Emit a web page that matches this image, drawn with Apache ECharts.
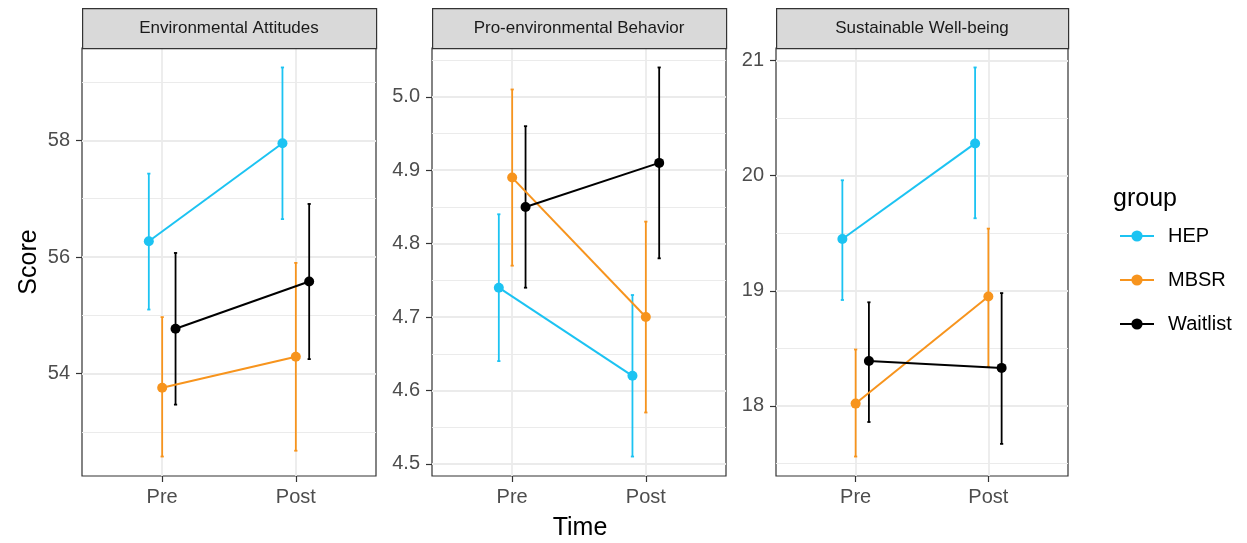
<!DOCTYPE html>
<html>
<head>
<meta charset="utf-8">
<script src="https://cdn.jsdelivr.net/npm/echarts@6/dist/echarts.min.js"></script>
<style>
html,body{margin:0;padding:0;background:#fff;}
#chart{width:1247px;height:543px;}
</style>
</head>
<body>
<div id="chart"></div>
<script>
// ---------------- data ----------------
const categories = ['Pre', 'Post'];
const groups = ['HEP', 'MBSR', 'Waitlist'];
const panelTitles = ['Environmental Attitudes', 'Pro-environmental Behavior', 'Sustainable Well-being'];

// rows: HEP, MBSR, Waitlist ; columns: Pre, Post
const eaMean  = [[56.27, 57.95], [53.76, 54.29], [54.77, 55.58]];
const eaLower = [[55.10, 56.65], [52.58, 52.68], [53.47, 54.25]];
const eaUpper = [[57.43, 59.25], [54.97, 55.90], [56.07, 56.91]];

const pebMean  = [[4.74, 4.62], [4.89, 4.70], [4.85, 4.91]];
const pebLower = [[4.64, 4.51], [4.77, 4.57], [4.74, 4.78]];
const pebUpper = [[4.84, 4.73], [5.01, 4.83], [4.96, 5.04]];

const swbMean  = [[19.45, 20.28], [18.02, 18.95], [18.39, 18.33]];
const swbLower = [[18.92, 19.63], [17.56, 18.34], [17.86, 17.67]];
const swbUpper = [[19.96, 20.94], [18.49, 19.54], [18.90, 18.98]];

const eaTicks  = [54, 56, 58];
const eaMinor  = [53, 55, 57, 59];
const pebTicks = [4.5, 4.6, 4.7, 4.8, 4.9, 5.0];
const pebMinor = [4.55, 4.65, 4.75, 4.85, 4.95, 5.05];
const swbTicks = [18, 19, 20, 21];
const swbMinor = [17.5, 18.5, 19.5, 20.5];
const tickDecimals = [0, 1, 0];

const dodge = [-0.1, 0, 0.1];

// ---------------- style / layout ----------------
const groupColors = ['#1cc3f2', '#f7941d', '#000000'];
const FONT = 'Liberation Sans';
const panelLeft = [82, 432, 776];
const panelWidth = [294, 294, 292];
const plotTop = 48, plotBottom = 476;
const stripTop = 8;

const panels = [
  {mean: eaMean, lower: eaLower, upper: eaUpper, ticks: eaTicks, minor: eaMinor},
  {mean: pebMean, lower: pebLower, upper: pebUpper, ticks: pebTicks, minor: pebMinor},
  {mean: swbMean, lower: swbLower, upper: swbUpper, ticks: swbTicks, minor: swbMinor}
];

function extentOf(p) {
  const lo = Math.min(...p.lower.flat(), ...p.mean.flat());
  const hi = Math.max(...p.upper.flat(), ...p.mean.flat());
  const pad = (hi - lo) * 0.05;
  return [lo - pad, hi + pad];
}

const grids = [], xAxes = [], yAxes = [], graphics = [];
const lineSeries = [], barSeries = [], gridSeries = [];

panels.forEach((p, pi) => {
  grids.push({
    left: panelLeft[pi], top: plotTop, width: panelWidth[pi], height: plotBottom - plotTop,
    show: true, borderColor: '#333333', borderWidth: 1.2, backgroundColor: '#ffffff'
  });
  xAxes.push({
    type: 'value', gridIndex: pi, min: 0.4, max: 2.6,
    axisLine: {show: false},
    splitLine: {show: false},
    axisTick: {show: true, customValues: [1, 2], length: 6, lineStyle: {color: '#333333', width: 1.2}},
    axisLabel: {
      show: true, customValues: [1, 2], margin: 11,
      formatter: v => categories[Math.round(v) - 1],
      fontFamily: FONT, fontSize: 20, color: '#4d4d4d'
    }
  });
  const ext = extentOf(p);
  yAxes.push({
    type: 'value', gridIndex: pi, min: ext[0], max: ext[1],
    axisLine: {show: false},
    splitLine: {show: false},
    axisTick: {show: true, customValues: p.ticks, length: 6, lineStyle: {color: '#333333', width: 1.2}},
    axisLabel: {
      show: true, customValues: p.ticks, margin: 12,
      formatter: v => Number(v).toFixed(tickDecimals[pi]),
      fontFamily: FONT, fontSize: 20, color: '#4d4d4d'
    },
    name: pi === 0 ? 'Score' : '',
    nameLocation: 'middle', nameRotate: 90, nameGap: 40,
    nameTextStyle: {fontFamily: FONT, fontSize: 25, color: '#000000'}
  });

  // gridlines (drawn through the axis scales)
  const md = [];
  p.minor.forEach(v => md.push({yAxis: v, lineStyle: {color: '#ebebeb', width: 1.1, type: 'solid'}}));
  p.ticks.forEach(v => md.push({yAxis: v, lineStyle: {color: '#ebebeb', width: 1.8, type: 'solid'}}));
  [1, 2].forEach(v => md.push({xAxis: v, lineStyle: {color: '#ebebeb', width: 1.8, type: 'solid'}}));
  gridSeries.push({
    type: 'line', xAxisIndex: pi, yAxisIndex: pi, data: [], silent: true, z: 1,
    markLine: {silent: true, z: 1, symbol: ['none', 'none'], label: {show: false}, animation: false, data: md}
  });

  groups.forEach((g, gi) => {
    const pts = categories.map((c, ci) => [ci + 1 + dodge[gi], p.mean[gi][ci]]);
    lineSeries.push({
      name: g, type: 'line', xAxisIndex: pi, yAxisIndex: pi, data: pts,
      symbol: 'circle', symbolSize: 10, showSymbol: true,
      itemStyle: {color: groupColors[gi]},
      lineStyle: {color: groupColors[gi], width: 2},
      z: 4, animation: false
    });
    const eb = categories.map((c, ci) => [ci + 1 + dodge[gi], p.lower[gi][ci], p.upper[gi][ci]]);
    const col = groupColors[gi];
    barSeries.push({
      name: g, type: 'custom', xAxisIndex: pi, yAxisIndex: pi, data: eb,
      encode: {x: 0, y: [1, 2]}, z: 3, animation: false,
      renderItem: function (params, api) {
        const x = api.value(0), lo = api.value(1), hi = api.value(2);
        const top = api.coord([x, hi]);
        const bot = api.coord([x, lo]);
        const l = api.coord([x - 0.012, hi])[0];
        const r = api.coord([x + 0.012, hi])[0];
        const style = {stroke: col, lineWidth: 1.8};
        return {
          type: 'group',
          children: [
            {type: 'line', shape: {x1: top[0], y1: top[1], x2: bot[0], y2: bot[1]}, style: style},
            {type: 'line', shape: {x1: l, y1: top[1], x2: r, y2: top[1]}, style: style},
            {type: 'line', shape: {x1: l, y1: bot[1], x2: r, y2: bot[1]}, style: style}
          ]
        };
      }
    });
  });

  // facet strip
  graphics.push({
    type: 'rect', left: panelLeft[pi], top: stripTop, z: 10,
    shape: {width: panelWidth[pi], height: plotTop - stripTop},
    style: {fill: '#d9d9d9', stroke: '#333333', lineWidth: 1.2}
  });
  graphics.push({
    type: 'text', z: 11,
    x: panelLeft[pi] + panelWidth[pi] / 2, y: (stripTop + plotTop) / 2,
    style: {text: panelTitles[pi], fontFamily: FONT, fontSize: 17, fill: '#1a1a1a',
            align: 'center', verticalAlign: 'middle'}
  });
});

const option = {
  animation: false,
  backgroundColor: '#ffffff',
  grid: grids,
  xAxis: xAxes,
  yAxis: yAxes,
  title: [
    {text: 'Time', left: 575, top: 511, textAlign: 'center',
     textStyle: {fontFamily: FONT, fontSize: 25, fontWeight: 'normal', color: '#000000'}},
    {text: 'group', left: 1108, top: 182,
     textStyle: {fontFamily: FONT, fontSize: 25, fontWeight: 'normal', color: '#000000'}}
  ],
  legend: {
    data: groups, orient: 'vertical', left: 1114, top: 221,
    itemWidth: 34, itemHeight: 14, itemGap: 24,
    textStyle: {fontFamily: FONT, fontSize: 20, color: '#000000', padding: [0, 0, 0, 9]},
    selectedMode: false
  },
  graphic: graphics,
  series: [...lineSeries, ...barSeries, ...gridSeries]
};

const chart = echarts.init(document.getElementById('chart'), null, {renderer: 'canvas'});
chart.setOption(option);
</script>
</body>
</html>
